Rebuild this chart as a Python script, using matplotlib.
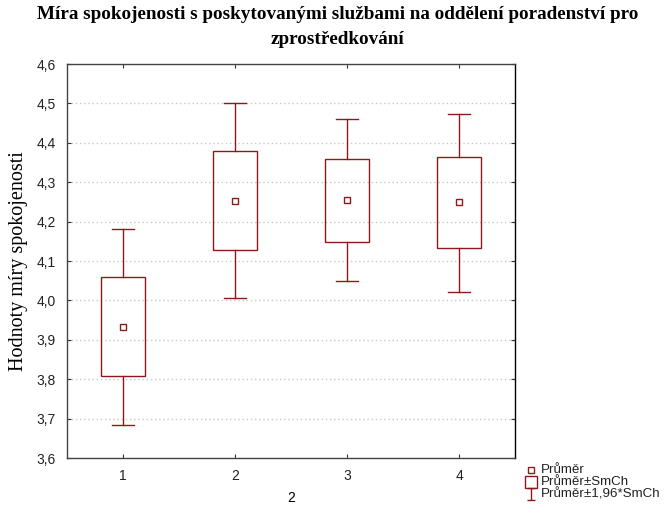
import matplotlib.pyplot as plt
from matplotlib.path import Path
from matplotlib.lines import Line2D

# values
groups = [1, 2, 3, 4]
mean = [3.933, 4.253, 4.256, 4.250]
se_low = [3.807, 4.128, 4.149, 4.134]
se_high = [4.059, 4.378, 4.360, 4.364]
ci_low = [3.685, 4.007, 4.048, 4.022]
ci_high = [4.180, 4.500, 4.460, 4.474]
yticks = [3.6, 3.7, 3.8, 3.9, 4.0, 4.1, 4.2, 4.3, 4.4, 4.5, 4.6]
ytick_labels = ["3,6", "3,7", "3,8", "3,9", "4,0", "4,1", "4,2", "4,3", "4,4", "4,5", "4,6"]
legend_labels = ["Průměr", "Průměr±SmCh", "Průměr±1,96*SmCh"]

red = "#8b1a1a"
box_w = 0.4
cap_w = 0.2
W, H = 669, 507

fig = plt.figure(figsize=(W / 100, H / 100), dpi=100)
ax = fig.add_axes([67 / W, 1 - 458 / H, 448 / W, 394 / H])

for x, m, bl, bh, cl, ch in zip(groups, mean, se_low, se_high, ci_low, ci_high):
    ax.add_patch(plt.Rectangle((x - box_w / 2, bl), box_w, bh - bl,
                               fill=False, edgecolor=red, lw=1.0, zorder=3))
    ax.plot([x, x], [bh, ch], color=red, lw=1.0, zorder=3)
    ax.plot([x, x], [cl, bl], color=red, lw=1.0, zorder=3)
    ax.plot([x - cap_w / 2, x + cap_w / 2], [ch, ch], color=red, lw=1.0, zorder=3)
    ax.plot([x - cap_w / 2, x + cap_w / 2], [cl, cl], color=red, lw=1.0, zorder=3)
    ax.plot([x], [m], marker="s", ms=4.4, mfc="white", mec=red, mew=1.0, zorder=4)

ax.set_xlim(0.5, 4.5)
ax.set_ylim(3.6, 4.6)
ax.set_xticks(groups)
ax.set_xticklabels([str(g) for g in groups], fontsize=10, family="Liberation Sans")
ax.set_yticks(yticks)
ax.set_yticklabels(ytick_labels, fontsize=10, family="Liberation Sans")
ax.tick_params(direction="in", length=3, top=True, right=True, pad=8, colors="#333333")
ax.tick_params(labelcolor="#222222")
ax.yaxis.grid(True, linestyle=(0, (1, 2)), color="#c8c8c8", lw=1.0)
ax.set_axisbelow(True)
for s in ax.spines.values():
    s.set_color("#444444")
    s.set_linewidth(1.0)
ax.spines["right"].set_color("black")

ax.set_xlabel("2", fontsize=10, family="Liberation Sans", labelpad=6)
ax.set_ylabel("Hodnoty míry spokojenosti", fontsize=14.5, family="Liberation Serif", labelpad=6)

fig.text(0.505, 1 - 6 / H, "Míra spokojenosti s poskytovanými službami na oddělení poradenství pro\nzprostředkování",
         ha="center", va="top", fontsize=13.8, fontweight="bold", family="Liberation Serif",
         linespacing=1.65)

# legend, drawn by hand to get the tight row spacing
ibeam = Path([(-0.6, 1), (0.6, 1), (0, 1), (0, -1), (-0.6, -1), (0.6, -1)],
             [Path.MOVETO, Path.LINETO, Path.MOVETO, Path.LINETO, Path.MOVETO, Path.LINETO])
leg_markers = [("s", 4.6), ("s", 8), (ibeam, 9)]
for i, (lab, (mk, ms)) in enumerate(zip(legend_labels, leg_markers)):
    yy = 1 - (470 + 12 * i) / H
    fig.add_artist(Line2D([531 / W], [yy], transform=fig.transFigure, ls="none",
                          marker=mk, ms=ms, mfc="white" if mk == "s" else "none",
                          mec=red, mew=1.0))
    fig.text(541 / W, yy, lab, ha="left", va="center", fontsize=9.6, family="Liberation Sans",
             color="#222222")

fig.savefig("out.png", dpi=100)
